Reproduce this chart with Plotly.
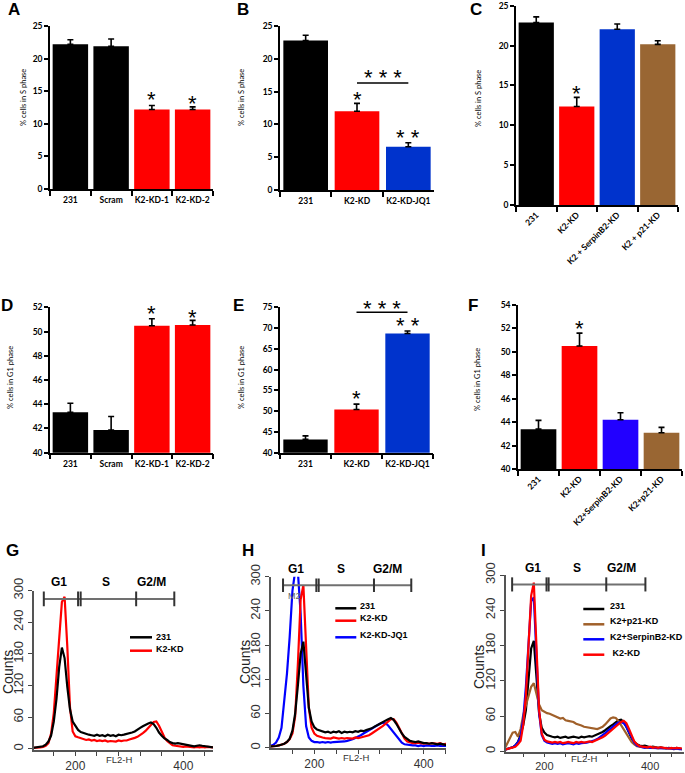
import plotly.graph_objects as go

# ---------------- data: bar panels ----------------
A_cats = ["231", "Scram", "K2-KD-1", "K2-KD-2"]
A_vals = [22.2, 21.9, 12.2, 12.2]
A_err = [0.7, 1.1, 0.6, 0.4]

B_cats = ["231", "K2-KD", "K2-KD-JQ1"]
B_vals = [22.8, 12.0, 6.6]
B_err = [0.8, 1.2, 0.6]

C_cats = ["231", "K2-KD", "K2 + SerpinB2-KD", "K2 + p21-KD"]
C_vals = [22.9, 12.35, 22.05, 20.15]
C_err = [0.7, 1.15, 0.65, 0.45]

D_cats = ["231", "Scram", "K2-KD-1", "K2-KD-2"]
D_vals = [43.33, 41.87, 50.48, 50.54]
D_err = [0.75, 1.12, 0.57, 0.38]

E_cats = ["231", "K2-KD", "K2-KD-JQ1"]
E_vals = [43.2, 50.4, 68.7]
E_err = [0.85, 1.3, 0.6]

F_cats = ["231", "K2-KD", "K2+SerpinB2-KD", "K2+p21-KD"]
F_vals = [43.4, 50.5, 44.2, 43.1]
F_err = [0.75, 1.1, 0.6, 0.45]

# significance marks: (category position, y value, text)
A_sig = [(2, 14.3, "*"), (3, 13.8, "*")]
B_sig = [(1, 14.4, "*"), (2, 8.6, "* *"), (1.5, 17.7, "* * *")]
B_bracket = (1, 2, 16.3)
C_sig = [(1, 14.5, "*")]
D_sig = [(2, 51.78, "*"), (3, 51.5, "*")]
E_sig = [(1, 53.9, "*"), (2, 71.5, "* *")]
E_sig_top = (1.5, 305, "* * *")     # above the axis top (pixel row)
E_bracket = (1, 2, 73.8)
F_sig = [(1, 52.3, "*")]

# ---------------- data: flow cytometry histograms ----------------
G_x = [120, 125, 130, 135, 140, 145, 150, 155, 160, 165,
       170, 175, 180, 185, 190, 195, 200, 205, 210, 215,
       220, 225, 230, 235, 240, 245, 250, 255, 260, 265,
       270, 275, 280, 285, 290, 295, 300, 305, 310, 315,
       320, 325, 330, 335, 340, 345, 350, 355, 360, 365,
       370, 375, 380, 385, 390, 395, 400, 405, 410, 415,
       420, 425, 430, 435, 440, 445, 450, 455]
G_231 = [2, 3, 3, 4, 5, 8, 14, 25, 52, 95,
         155, 192, 172, 118, 75, 52, 43, 36, 32, 30,
         28, 27, 26, 25, 27, 25, 26, 24, 27, 25,
         26, 24, 27, 26, 27, 28, 29, 31, 33, 37,
         40, 43, 46, 48, 50, 47, 40, 31, 25, 20,
         17, 13, 11, 10, 11, 10, 8, 7, 6, 6,
         5, 6, 7, 6, 5, 4, 4, 3]
G_KD = [2, 2, 3, 3, 4, 6, 11, 29, 68, 131,
        209, 278, 288, 195, 79, 33, 24, 22, 20, 18,
        17, 18, 16, 17, 15, 16, 15, 16, 14, 15,
        15, 14, 16, 15, 16, 16, 18, 19, 21, 23,
        26, 30, 34, 40, 46, 51, 52, 44, 33, 22,
        15, 10, 7, 6, 5, 5, 4, 5, 4, 4,
        3, 4, 3, 4, 3, 4, 3, 3]

H_x = [115, 120, 125, 130, 135, 140, 145, 150, 155, 160,
       165, 170, 175, 180, 185, 190, 195, 200, 205, 210,
       215, 220, 225, 230, 235, 240, 245, 250, 255, 260,
       265, 270, 275, 280, 285, 290, 295, 300, 305, 310,
       315, 320, 325, 330, 335, 340, 345, 350, 355, 360,
       365, 370, 375, 380, 385, 390, 395, 400, 405, 410,
       415, 420, 425, 430, 435, 440, 445, 450]
H_231 = [2, 2, 3, 3, 4, 5, 7, 10, 16, 30,
         60, 110, 165, 186, 125, 70, 46, 36, 32, 30,
         29, 27, 28, 26, 28, 27, 29, 26, 28, 27,
         28, 27, 29, 28, 30, 29, 31, 32, 34, 37,
         39, 42, 45, 48, 50, 52, 49, 42, 33, 25,
         19, 15, 12, 11, 10, 11, 9, 8, 8, 7,
         8, 7, 6, 7, 6, 5, 6, 5]
H_KD = [2, 2, 3, 3, 4, 5, 7, 10, 15, 25,
        55, 148, 260, 285, 170, 70, 35, 25, 21, 19,
        18, 17, 17, 16, 18, 17, 16, 17, 16, 17,
        17, 16, 18, 17, 18, 19, 20, 22, 25, 28,
        31, 34, 38, 42, 46, 50, 50, 44, 35, 24,
        16, 11, 9, 8, 8, 9, 8, 7, 8, 7,
        8, 7, 7, 8, 6, 7, 6, 6]
H_JQ1 = [2, 3, 5, 9, 18, 35, 79, 130, 195, 275,
         310, 308, 235, 108, 38, 18, 12, 10, 10, 9,
         10, 9, 10, 9, 10, 10, 11, 10, 11, 12,
         13, 15, 17, 19, 22, 25, 28, 31, 34, 37,
         40, 42, 44, 43, 39, 33, 26, 20, 14, 9,
         6, 5, 4, 4, 4, 3, 4, 3, 4, 3,
         3, 3, 4, 3, 3, 3, 3, 3]

I_x = [125, 130, 135, 140, 145, 150, 155, 160, 165, 170,
       175, 180, 185, 190, 195, 200, 205, 210, 215, 220,
       225, 230, 235, 240, 245, 250, 255, 260, 265, 270,
       275, 280, 285, 290, 295, 300, 305, 310, 315, 320,
       325, 330, 335, 340, 345, 350, 355, 360, 365, 370,
       375, 380, 385, 390, 395, 400, 405, 410, 415, 420,
       425, 430, 435, 440, 445, 450, 455, 460]
I_231 = [3, 4, 5, 7, 10, 16, 28, 45, 70, 120,
         175, 188, 125, 65, 40, 32, 28, 26, 25, 24,
         25, 23, 24, 25, 23, 24, 25, 24, 23, 25,
         24, 25, 26, 25, 27, 28, 30, 33, 36, 40,
         43, 46, 50, 53, 54, 50, 42, 32, 22, 16,
         12, 10, 9, 10, 8, 7, 8, 7, 6, 7,
         6, 5, 6, 5, 5, 6, 5, 4]
I_p21 = [5, 15, 25, 32, 33, 25, 38, 62, 78, 92,
         110, 116, 100, 80, 70, 67, 65, 64, 62, 60,
         58, 56, 57, 53, 52, 51, 50, 47, 46, 44,
         42, 41, 40, 39, 38, 38, 40, 42, 46, 52,
         56, 58, 57, 52, 45, 38, 30, 22, 16, 12,
         9, 8, 7, 7, 6, 6, 7, 6, 5, 6,
         5, 6, 5, 5, 4, 5, 5, 4]
I_Serp = [3, 4, 5, 7, 10, 15, 25, 55, 110, 190,
          255, 262, 175, 65, 28, 18, 15, 14, 13, 14,
          13, 14, 12, 13, 14, 13, 12, 14, 13, 14,
          14, 15, 16, 17, 19, 21, 24, 27, 31, 35,
          39, 43, 46, 49, 50, 48, 42, 33, 23, 15,
          10, 8, 7, 6, 7, 6, 6, 5, 6, 5,
          5, 6, 5, 5, 4, 5, 4, 4]
I_KD = [3, 4, 5, 6, 8, 12, 18, 45, 95, 180,
        265, 287, 190, 70, 30, 20, 17, 16, 15, 16,
        15, 16, 14, 15, 16, 15, 14, 16, 15, 16,
        15, 16, 17, 16, 18, 19, 21, 24, 27, 31,
        35, 39, 43, 47, 50, 52, 48, 38, 26, 17,
        12, 9, 8, 7, 7, 8, 6, 7, 6, 7,
        6, 6, 5, 6, 5, 6, 5, 5]

for xs, ys in [(G_x, G_231), (G_x, G_KD), (H_x, H_231), (H_x, H_KD), (H_x, H_JQ1),
               (I_x, I_231), (I_x, I_p21), (I_x, I_Serp), (I_x, I_KD)]:
    assert len(xs) == len(ys), (len(xs), len(ys))

# cell-cycle gates: marker boundaries and label positions
G_gate = [141.5, 205, 209.8, 312.6, 383.3]
H_gate = [142.8, 203.7, 208, 309.1, 377.3]
I_gate = [139, 204, 208, 317, 391]
G_gate_lab = [170.5, 257, 341.6]
H_gate_lab = [167, 249.4, 333.5]
I_gate_lab = [179, 261, 346]
gate_names = ["G1", "S", "G2/M"]

hist_ticks = [120, 160, 200, 240, 280, 320, 360, 400, 440]
hist_ticktext = ["", "", "200", "", "", "", "", "400", ""]
count_ticks = [0, 60, 120, 180, 240, 300]

# ---------------- styling / layout ----------------
W, H = 685, 773
BLACK, RED = "#000000", "#ff0000"
BLUE_C, BLUE_F, BROWN = "#0033cc", "#2200ff", "#996633"
BAR_FONT = "Lato"
HIST_FONT = "Liberation Sans"


def dx(l, r):
    return [l / W, r / W]


def dy(t, b):
    return [1 - b / H, 1 - t / H]


def axid(i):
    return ("x" if i == 1 else f"x{i}", "y" if i == 1 else f"y{i}")


def axkey(i):
    return ("xaxis" if i == 1 else f"xaxis{i}", "yaxis" if i == 1 else f"yaxis{i}")


def note(text, x, y, xref="paper", yref="paper", **kw):
    d = dict(text=text, x=x, y=y, xref=xref, yref=yref, showarrow=False,
             xanchor="center", yanchor="middle")
    d.update(kw)
    return d


fig = go.Figure()
layout = {}
annotations = []
shapes = []

bar_panels = [
    (1, A_cats, A_vals, A_err, [BLACK, BLACK, RED, RED], [0, 25], 5, (50, 213, 26, 189),
     "% cells in S phase", (23, 98), ("A", 14, 9), 0, A_sig, None),
    (2, B_cats, B_vals, B_err, [BLACK, RED, BLUE_C], [0, 25], 5, (280, 434, 26, 190),
     "% cells in S phase", (241, 98), ("B", 243, 9), 0, B_sig, B_bracket),
    (3, C_cats, C_vals, C_err, [BLACK, RED, BLUE_C, BROWN], [0, 25], 5, (516, 678, 5.7, 205),
     "% cells in S phase", (478, 98), ("C", 476, 9), -45, C_sig, None),
    (4, D_cats, D_vals, D_err, [BLACK, BLACK, RED, RED], [40, 52], 2, (50, 213, 307.3, 452.7),
     "% cells in G1 phase", (10, 378), ("D", 7, 306), 0, D_sig, None),
    (5, E_cats, E_vals, E_err, [BLACK, RED, BLUE_C], [40, 75], 5, (280, 433, 307.3, 452.7),
     "% cells in G1 phase", (241, 378), ("E", 239, 306), 0, E_sig, E_bracket),
    (6, F_cats, F_vals, F_err, [BLACK, RED, BLUE_F, BROWN], [40, 54], 2, (518, 682, 305, 469),
     "% cells in G1 phase", (477, 380), ("F", 473, 306), -45, F_sig, None),
]

STAR_SHIFT = -4
STAR_FONT = dict(family=HIST_FONT, size=22, color="black")

for (i, cats, vals, err, cols, yr, dt, box, ytitle, tpos, letter, ang, sig, bracket) in bar_panels:
    xa, ya = axid(i)
    xk, yk = axkey(i)
    fig.add_trace(go.Bar(
        x=cats, y=vals, width=0.87, xaxis=xa, yaxis=ya, showlegend=False, hoverinfo="skip",
        marker=dict(color=cols, line=dict(width=0)),
        error_y=dict(type="data", symmetric=False, array=err, arrayminus=[0] * len(err),
                     color="black", thickness=1.6, width=3),
    ))
    l, r, t, b = box
    layout[xk] = dict(domain=dx(l, r), anchor=ya, type="category", range=[-0.5, len(cats) - 0.5],
                      tickson="boundaries", ticks="outside", ticklen=5, tickwidth=1.5,
                      tickcolor="black", showline=True, linecolor="black", linewidth=1.5,
                      showgrid=False, zeroline=False, tickangle=ang, automargin=False,
                      ticklabelstandoff=(2 if ang == 0 else 0),
                      tickfont=dict(family=BAR_FONT, size=8.5, color="black", weight="bold"))
    layout[yk] = dict(domain=dy(t, b), anchor=xa, range=yr, dtick=dt, tick0=yr[0],
                      ticks="outside", ticklen=4, tickwidth=1.5, tickcolor="black",
                      showline=True, linecolor="black", linewidth=1.5, showgrid=False,
                      zeroline=False, automargin=False,
                      tickfont=dict(family=BAR_FONT, size=8.5, color="black", weight="bold"))
    annotations.append(note(ytitle, tpos[0] / W, 1 - tpos[1] / H, textangle=-90,
                            font=dict(family=BAR_FONT, size=7.5, color="black")))
    annotations.append(note(letter[0], letter[1] / W, 1 - letter[2] / H,
                            font=dict(family=HIST_FONT, size=17, color="black", weight="bold")))
    for (cx, cy, txt) in sig:
        annotations.append(note(txt, cx, cy, xref=xa, yref=ya, yshift=STAR_SHIFT,
                                font=STAR_FONT))
    if bracket:
        shapes.append(dict(type="line", xref=xa, yref=ya, x0=bracket[0], x1=bracket[1],
                           y0=bracket[2], y1=bracket[2], line=dict(color="black", width=1.6)))

# E: "***" sits above the axis top
annotations.append(note(E_sig_top[2], E_sig_top[0], 1 - E_sig_top[1] / H, xref="x5",
                        yref="paper", yshift=STAR_SHIFT, font=STAR_FONT))

hist_panels = [
    (7, G_x, [(G_KD, RED, "K2-KD"), (G_231, BLACK, "231")], [122.4, 455], [-2, 300],
     (33.5, 213, 590.5, 750), G_gate, G_gate_lab, 284, 14, 582, (8, 672), (119, 759), ("G", 12, 550),
     [("231", BLACK, 637.3, 637), ("K2-KD", RED, 650.7, 649)], (130, 152, 154), 12, 4),
    (8, H_x, [(H_JQ1, "#0000ff", "K2-KD-JQ1"), (H_KD, RED, "K2-KD"), (H_231, BLACK, "231")],
     [120.8, 440.8], [-1, 300], (271, 446, 576.7, 748.3), H_gate, H_gate_lab, 285, 12, 569,
     (245, 662), (356, 757), ("H", 248, 550),
     [("231", BLACK, 608.3, 606), ("K2-KD", RED, 620.7, 618.3), ("K2-KD-JQ1", "#0000ff", 637.3, 635)],
     (335.3, 356.3, 358), 12, 4),
    (9, I_x, [(I_231, BLACK, "231"), (I_p21, "#a0602a", "K2+p21-KD"),
              (I_Serp, "#0000ff", "K2+SerpinB2-KD"), (I_KD, RED, "K2-KD")],
     [127.4, 464], [-1, 300], (506, 684, 575, 752), I_gate, I_gate_lab, 284, 12, 567.7,
     (479, 667), (584, 758), ("I", 483, 550),
     [("231", BLACK, 609, 606), ("K2+p21-KD", "#a0602a", 624.3, 620.7),
      ("K2+SerpinB2-KD", "#0000ff", 639.3, 637.3), (" K2-KD", RED, 654.7, 653.3)],
     (583.3, 604.3, 607.7), 11, 3),
]

for (i, xs, series, xr, yr, box, gate, gate_lab, gy, gh, gly, ctpos, flpos, letter,
     leg, legx, xfs, xtl) in hist_panels:
    xa, ya = axid(i)
    xk, yk = axkey(i)
    for ys, col, name in series:
        fig.add_trace(go.Scatter(x=xs, y=ys, mode="lines", line=dict(color=col, width=2.2),
                                 xaxis=xa, yaxis=ya, showlegend=False, name=name,
                                 hoverinfo="skip"))
    l, r, t, b = box
    layout[xk] = dict(domain=dx(l, r), anchor=ya, range=xr, tickvals=hist_ticks,
                      ticktext=hist_ticktext, ticks="outside", ticklen=xtl, tickwidth=1,
                      tickcolor="#444", showline=True, linecolor="#555", linewidth=1.5,
                      showgrid=False, zeroline=False, automargin=False,
                      tickfont=dict(family=HIST_FONT, size=xfs, color="#333"))
    layout[yk] = dict(domain=dy(t, b), anchor=xa, range=yr, tickvals=count_ticks,
                      tickangle=-90, ticks="outside", ticklen=4, tickwidth=1, tickcolor="#444",
                      showline=True, linecolor="#555", linewidth=1.5, showgrid=False,
                      zeroline=False, automargin=False,
                      tickfont=dict(family=HIST_FONT, size=13, color="#333"))
    # gate bar
    shapes.append(dict(type="line", xref=xa, yref=ya, x0=gate[0], x1=gate[-1], y0=gy, y1=gy,
                       line=dict(color="#707070", width=2)))
    for gxv in gate:
        shapes.append(dict(type="line", xref=xa, yref=ya, x0=gxv, x1=gxv, y0=gy - gh,
                           y1=gy + gh, line=dict(color="#333", width=2)))
    for name, gl in zip(gate_names, gate_lab):
        annotations.append(note(name, gl, 1 - gly / H, xref=xa, yref="paper",
                                font=dict(family=HIST_FONT, size=12, color="black",
                                          weight="bold")))
    annotations.append(note("Counts", ctpos[0] / W, 1 - ctpos[1] / H, textangle=-90,
                            font=dict(family=HIST_FONT, size=14, color="#222")))
    annotations.append(note("FL2-H", flpos[0] / W, 1 - flpos[1] / H,
                            font=dict(family=HIST_FONT, size=9.5, color="#333")))
    annotations.append(note(letter[0], letter[1] / W, 1 - letter[2] / H,
                            font=dict(family=HIST_FONT, size=17, color="black", weight="bold")))
    for name, col, ly, ty in leg:
        shapes.append(dict(type="line", xref="paper", yref="paper", x0=legx[0] / W,
                           x1=legx[1] / W, y0=1 - ly / H, y1=1 - ly / H,
                           line=dict(color=col, width=2.5)))
        annotations.append(note(name, legx[2] / W, 1 - ty / H, xanchor="left",
                                font=dict(family=HIST_FONT, size=9, color="black",
                                          weight="bold")))

annotations.append(note("M2", 294.7 / W, 1 - 596 / H,
                        font=dict(family=HIST_FONT, size=9, color="#666")))

fig.update_layout(
    width=W, height=H, margin=dict(l=0, r=0, t=0, b=0, pad=0),
    paper_bgcolor="white", plot_bgcolor="white", showlegend=False,
    annotations=annotations, shapes=shapes, **layout,
)

fig.write_html("out.html", config={"displayModeBar": False},
               post_script="document.body.style.margin='0px';document.body.style.padding='0px';")
